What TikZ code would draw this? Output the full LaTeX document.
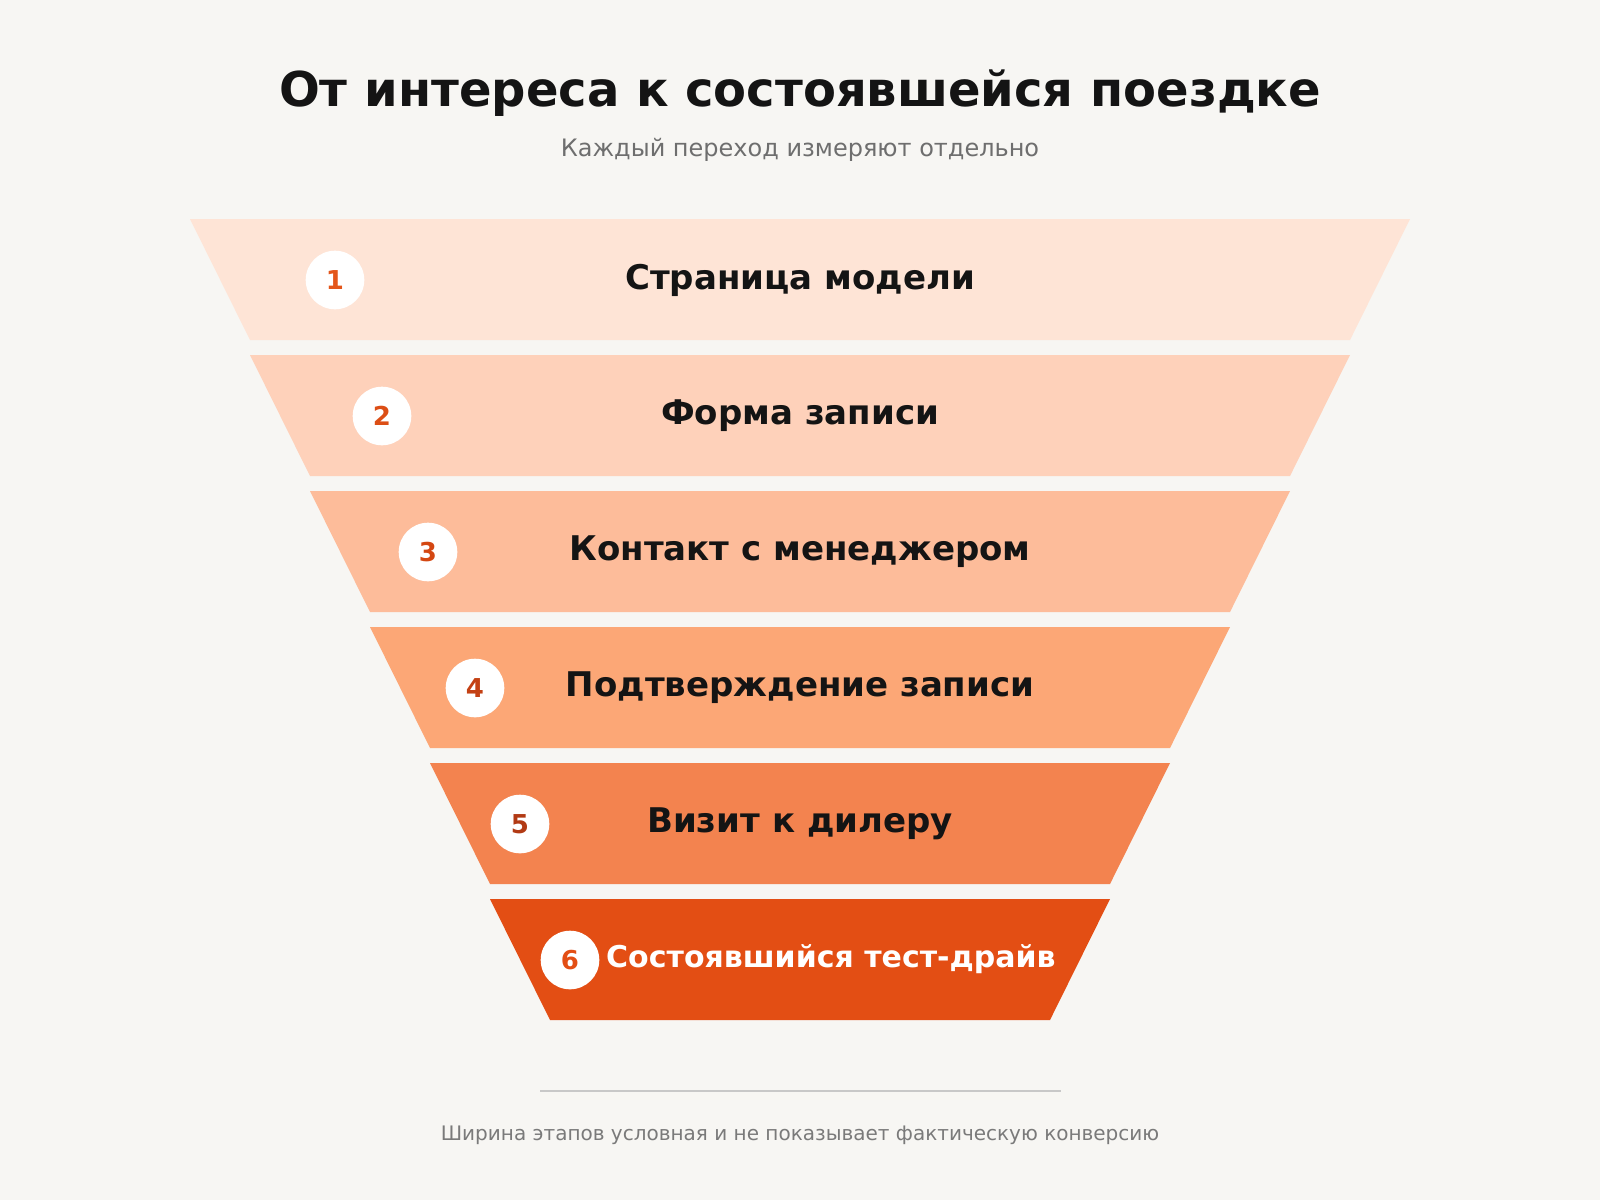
\documentclass[tikz,border=0pt]{standalone}
\usepackage{fontspec}
\setmainfont{DejaVu Sans}
\definecolor{bgc}{HTML}{F7F6F3}
\definecolor{titc}{HTML}{141414}
\definecolor{subc}{HTML}{6E6E6E}
\definecolor{footc}{HTML}{7A7A7A}
\definecolor{linec}{HTML}{C8C8C8}
\definecolor{bandA}{HTML}{FEE4D6}
\definecolor{bandB}{HTML}{FED1BA}
\definecolor{bandC}{HTML}{FDBC9A}
\definecolor{bandD}{HTML}{FCA776}
\definecolor{bandE}{HTML}{F3834F}
\definecolor{bandF}{HTML}{E34E14}
\definecolor{numA}{HTML}{E4561A}
\definecolor{numB}{HTML}{DC4E15}
\definecolor{numC}{HTML}{D44712}
\definecolor{numD}{HTML}{C44114}
\definecolor{numE}{HTML}{B23A14}
\definecolor{numF}{HTML}{E34E14}
\tikzset{
  numcirc/.style={circle, fill=white, minimum size=58.6pt, inner sep=0pt, font=\fontsize{26}{26}\selectfont\bfseries},
  stagelbl/.style={font=\fontsize{34}{34}\selectfont\bfseries, text=titc, inner sep=0pt},
}
\begin{document}
\begin{tikzpicture}[x=1pt,y=-1pt]
\fill[bgc] (0,0) rectangle (1600,1200);
\useasboundingbox (0,0) rectangle (1600,1200);
\node[font=\fontsize{48}{48}\selectfont\bfseries, text=titc, inner sep=0pt] (title) at (800,93) {От интереса к состоявшейся поездке};
\node[font=\fontsize{24}{24}\selectfont, text=subc, inner sep=0pt] (subtitle) at (800,150) {Каждый переход измеряют отдельно};
% bands
\foreach \i/\c in {0/bandA,1/bandB,2/bandC,3/bandD,4/bandE,5/bandF}{
  \pgfmathsetmacro{\yt}{219+136*\i}
  \pgfmathsetmacro{\yb}{\yt+121}
  \pgfmathsetmacro{\wt}{610-60*\i}
  \pgfmathsetmacro{\wb}{\wt-60}
  \fill[\c] (800-\wt,\yt) -- (800+\wt,\yt) -- (800+\wb,\yb) -- (800-\wb,\yb) -- cycle;
}
\node[numcirc, text=numA] (n1) at (335,280) {1};
\node[numcirc, text=numB] (n2) at (382,416) {2};
\node[numcirc, text=numC] (n3) at (428,552) {3};
\node[numcirc, text=numD] (n4) at (475,688) {4};
\node[numcirc, text=numE] (n5) at (520,824) {5};
\node[numcirc, text=numF] (n6) at (570,960) {6};
\node[stagelbl] (l1) at (800,280) {Страница модели};
\node[stagelbl] (l2) at (800,416) {Форма записи};
\node[stagelbl] (l3) at (800,552) {Контакт с менеджером};
\node[stagelbl] (l4) at (800,688) {Подтверждение записи};
\node[stagelbl] (l5) at (800,824) {Визит к дилеру};
\node[stagelbl, text=white, font=\fontsize{30}{30}\selectfont\bfseries, anchor=west] (l6) at (606,959) {Состоявшийся тест-драйв};
\coordinate (fl) at (540,1091);
\coordinate (fr) at (1061,1091);
\draw[linec, line width=2pt] (fl) -- (fr);
\node[font=\fontsize{20}{20}\selectfont, text=footc, inner sep=0pt] (foot) at (800,1135) {Ширина этапов условная и не показывает фактическую конверсию};
\end{tikzpicture}
\end{document}
